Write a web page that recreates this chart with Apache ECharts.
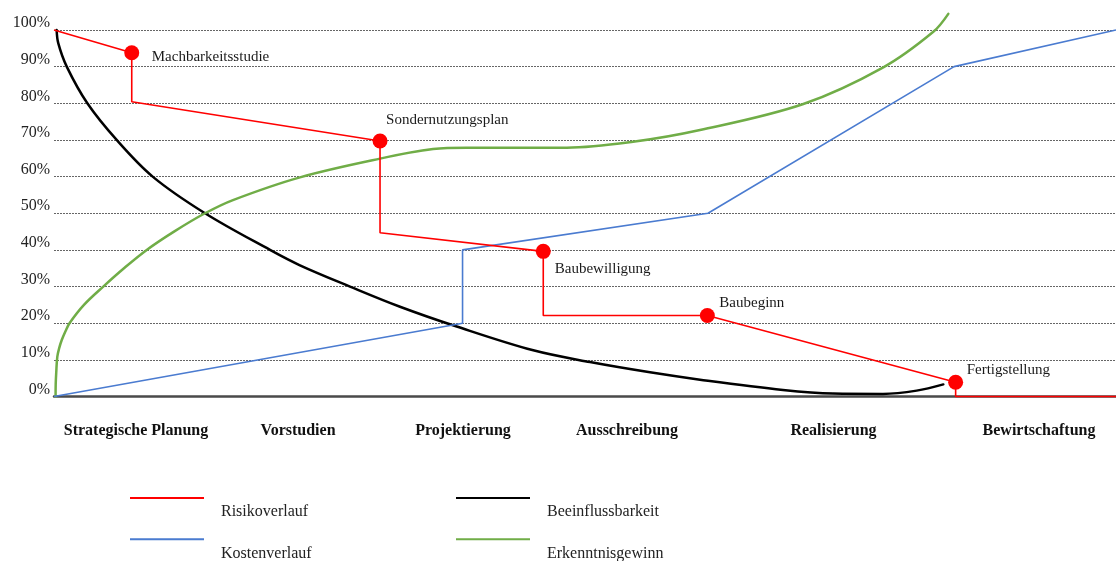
<!DOCTYPE html>
<html>
<head>
<meta charset="utf-8">
<script src="https://cdn.jsdelivr.net/npm/echarts@6/dist/echarts.min.js"></script>
<style>
html,body{margin:0;padding:0;background:#ffffff;}
#chart{width:1116px;height:561px;}
</style>
</head>
<body>
<div id="chart"></div>
<script>
// ---- data ----
const yTickStep = 10;
const phaseNames = ['Strategische Planung', 'Vorstudien', 'Projektierung', 'Ausschreibung', 'Realisierung', 'Bewirtschaftung'];
const phaseX = [7.72, 22.98, 38.51, 53.95, 73.40, 92.75];

const risikoX = [0, 7.32, 7.32, 30.70, 30.70, 46.07, 46.07, 61.52, 84.90, 84.90, 100];
const risikoY = [100, 93.8, 80.4, 69.7, 44.7, 39.6, 22.1, 22.1, 3.9, 0, 0];

const kostenX = [0, 38.47, 38.47, 61.58, 84.75, 100];
const kostenY = [0, 20, 40, 50, 90, 100];

const beeinflussX = [0.25, 0.40, 1.20, 3.14, 5.90, 9.29, 14.22, 20.34, 23.16, 27.87, 32.58, 37.92, 45.13, 50.47, 56.12, 60.83, 68.64, 73.35, 78.06, 81.23, 83.74];
const beeinflussY = [100, 96.4, 90, 80, 70, 60, 50, 40, 35.8, 30, 24.5, 19.1, 12.6, 9.4, 6.6, 4.6, 1.8, 0.8, 0.7, 1.6, 3.3];

const erkenntnisX = [0.15, 0.16, 0.21, 0.31, 0.49, 0.73, 1.08, 1.46, 2.82, 4.64, 6.59, 8.73, 11.30, 14.22, 16.85, 23.16, 30.70, 35.69, 38.86, 48.28, 54.52, 60.83, 70.56, 78.09, 82.80, 84.21];
const erkenntnisY = [0, 3.3, 6.5, 10.8, 13.2, 15.4, 17.8, 20, 25, 30, 35, 40, 45, 50, 53.6, 59.8, 64.9, 67.5, 67.9, 67.9, 69.5, 72.7, 79.8, 89.8, 99.5, 104.4];

const milestoneNames = ['Machbarkeitsstudie', 'Sondernutzungsplan', 'Baubewilligung', 'Baubeginn', 'Fertigstellung'];
const milestoneX = [7.32, 30.70, 46.07, 61.52, 84.90];
const milestoneY = [93.8, 69.7, 39.6, 22.1, 3.9];

const legendNames = ['Risikoverlauf', 'Kostenverlauf', 'Beeinflussbarkeit', 'Erkenntnisgewinn'];

// ---- styling ----
const serif = 'Liberation Serif';
const labelOffsets = [[12.5, 4], [-1.5, -21], [4, 18], [4.5, -12.5], [3.5, -12]];
const legendSlots = [[130, 497], [130, 538.3], [456, 497], [456, 538.3]];
const pairs = (xs, ys) => xs.map((x, i) => [x, ys[i]]);

// legend icon: a line at the top of a taller, wider box so the text sits lower and further right
const legendIcon = 'path://M0,0L74,0L74,2L0,2Z M86,30L86,30Z';
const legends = legendNames.map((n, i) => ({
  data: [n],
  left: legendSlots[i][0], top: legendSlots[i][1],
  orient: 'horizontal',
  padding: 0,
  itemWidth: 86,
  itemHeight: 30,
  icon: legendIcon,
  selectedMode: false,
  itemStyle: { borderWidth: 0 },
  textStyle: { fontFamily: serif, fontSize: 16, color: '#222' }
}));

const option = {
  backgroundColor: '#ffffff',
  animation: false,
  grid: { left: 54, right: 0, top: 30, bottom: 164.5, containLabel: false },
  legend: legends,
  xAxis: {
    type: 'value', min: 0, max: 100,
    axisLine: { show: true, lineStyle: { color: '#4a4a4a', width: 2.5 } },
    axisTick: { show: false },
    splitLine: { show: false },
    axisLabel: {
      customValues: phaseX,
      margin: 26,
      fontFamily: serif, fontSize: 16, fontWeight: 'bold', color: '#111',
      formatter: v => { const i = phaseX.indexOf(v); return i >= 0 ? phaseNames[i] : ''; }
    }
  },
  yAxis: {
    type: 'value', min: 0, max: 100, interval: yTickStep,
    axisLine: { show: false },
    axisTick: { show: false },
    axisLabel: {
      formatter: '{value}%', margin: 4,
      fontFamily: serif, fontSize: 16, color: '#222',
      verticalAlign: 'bottom', lineHeight: 14
    },
    splitLine: { show: true, lineStyle: { color: '#666', width: 1.2, type: [2, 1] } }
  },
  series: [
    {
      name: 'Beeinflussbarkeit', type: 'line', data: pairs(beeinflussX, beeinflussY),
      smooth: 0.35, showSymbol: false, symbol: 'none', clip: false,
      color: '#000000', lineStyle: { color: '#000000', width: 2.5, cap: 'round' }
    },
    {
      name: 'Erkenntnisgewinn', type: 'line', data: pairs(erkenntnisX, erkenntnisY),
      smooth: 0.35, showSymbol: false, symbol: 'none', clip: false,
      color: '#70ad47', lineStyle: { color: '#70ad47', width: 2.5, cap: 'round' }
    },
    {
      name: 'Kostenverlauf', type: 'line', data: pairs(kostenX, kostenY),
      showSymbol: false, symbol: 'none', clip: false,
      color: '#4a7bd0', lineStyle: { color: '#4a7bd0', width: 1.6 }
    },
    {
      name: 'Risikoverlauf', type: 'line', data: pairs(risikoX, risikoY),
      showSymbol: false, symbol: 'none', clip: false,
      color: '#ff0000', lineStyle: { color: '#ff0000', width: 1.6 }
    },
    {
      name: 'Meilensteine', type: 'scatter', symbol: 'circle', symbolSize: 15, clip: false,
      itemStyle: { color: '#ff0000', opacity: 1 }, z: 5,
      data: milestoneNames.map((n, i) => ({
        name: n, value: [milestoneX[i], milestoneY[i]],
        label: {
          show: true, position: 'right', distance: 0, offset: labelOffsets[i],
          formatter: '{b}', fontFamily: serif, fontSize: 15, color: '#1a1a1a'
        }
      }))
    }
  ]
};

const chart = echarts.init(document.getElementById('chart'), null, { renderer: 'canvas' });
chart.setOption(option);
</script>
</body>
</html>
